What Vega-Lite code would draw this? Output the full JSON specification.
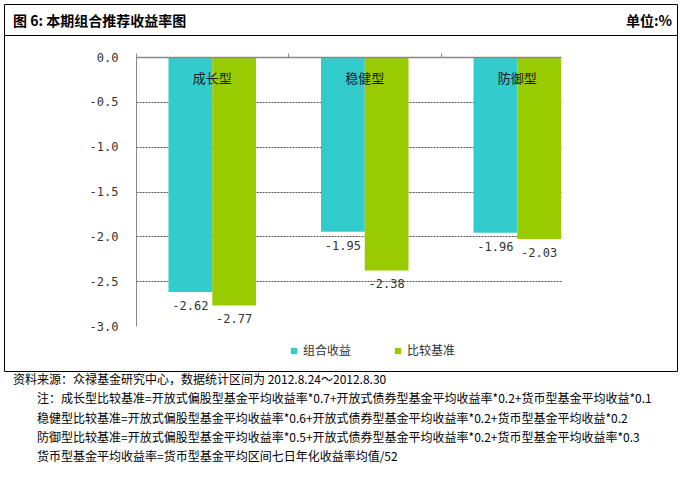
{
  "$schema": "https://vega.github.io/schema/vega-lite/v6.json",
  "background": "white",
  "padding": {"left": 3, "top": 3, "right": 0, "bottom": 0},
  "spacing": 0,
  "bounds": "flush",
  "config": {
    "font": "Noto Sans CJK SC",
    "view": {"stroke": "#000000", "strokeWidth": 1},
    "locale": {"number": {"decimal": ".", "thousands": ",", "grouping": [3], "currency": ["", ""], "minus": "-"}}
  },
  "vconcat": [
    {
      "width": 673,
      "height": 31,
      "data": {"values": [
        {"文字": "图 6: 本期组合推荐收益率图", "位置": "左"},
        {"文字": "单位:%", "位置": "右"}
      ]},
      "encoding": {
        "x": {"field": "位置", "type": "nominal", "scale": {"type": "point", "domain": ["左", "右"], "padding": 0}, "axis": null},
        "text": {"field": "文字", "type": "nominal"}
      },
      "layer": [
        {
          "transform": [{"filter": "datum['位置'] == '左'"}],
          "mark": {"type": "text", "align": "left", "dx": 9, "dy": 2, "fontSize": 14, "fontWeight": "bold", "color": "#000000"}
        },
        {
          "transform": [{"filter": "datum['位置'] == '右'"}],
          "mark": {"type": "text", "align": "right", "dx": -5, "dy": 2, "fontSize": 14, "fontWeight": "bold", "color": "#000000"}
        }
      ]
    },
    {
      "width": 673,
      "height": 336,
      "data": {"values": [
        {"类型": "成长型", "系列": "组合收益", "收益率": -2.62},
        {"类型": "成长型", "系列": "比较基准", "收益率": -2.77},
        {"类型": "稳健型", "系列": "组合收益", "收益率": -1.95},
        {"类型": "稳健型", "系列": "比较基准", "收益率": -2.38},
        {"类型": "防御型", "系列": "组合收益", "收益率": -1.96},
        {"类型": "防御型", "系列": "比较基准", "收益率": -2.03}
      ]},
      "encoding": {
        "x": {
          "field": "类型", "type": "nominal", "sort": ["成长型", "稳健型", "防御型"],
          "scale": {"range": [132, 557], "paddingInner": 0.4262, "paddingOuter": 0.1066, "align": 1},
          "axis": {
            "orient": "top", "offset": -22, "labels": false, "title": null,
            "ticks": true, "tickSize": 4, "tickColor": "#888888", "bandPosition": -0.3714,
            "domainColor": "#888888", "domainWidth": 1.5, "grid": false, "zindex": 1
          }
        }
      },
      "layer": [
        {
          "mark": {"type": "bar"},
          "encoding": {
            "xOffset": {"field": "系列", "type": "nominal", "sort": ["组合收益", "比较基准"], "scale": {"paddingInner": 0, "paddingOuter": 0}},
            "y": {
              "field": "收益率", "type": "quantitative",
              "scale": {"domain": [-3, 0], "range": [291, 22], "nice": false, "zero": false},
              "axis": {
                "orient": "left", "offset": -132, "title": null,
                "values": [0, -0.5, -1, -1.5, -2, -2.5, -3], "format": ".1f",
                "ticks": false, "labelPadding": 18,
                "labelFont": "DejaVu Sans Mono", "labelFontSize": 12, "labelColor": "#333333",
                "domainColor": "#888888", "domainWidth": 1,
                "grid": true, "gridColor": "#555555", "gridDash": [2, 1], "gridWidth": 1,
                "gridOpacity": {"condition": {"test": "datum.value == 0 || datum.value == -3", "value": 0}, "value": 1}
              }
            },
            "color": {
              "field": "系列", "type": "nominal",
              "scale": {"domain": ["组合收益", "比较基准"], "range": ["#33CCCC", "#99CC00"]},
              "legend": {
                "orient": "none", "legendX": 284, "legendY": 341, "direction": "horizontal",
                "title": null, "symbolType": "square", "symbolSize": 40, "symbolStrokeWidth": 0,
                "labelFont": "Noto Sans CJK SC", "labelFontSize": 12, "labelColor": "#333333",
                "columnPadding": 40, "labelOffset": 3
              }
            }
          }
        },
        {
          "mark": {"type": "text", "baseline": "middle", "dy": 14, "font": "DejaVu Sans Mono", "fontSize": 12, "color": "#333333"},
          "encoding": {
            "xOffset": {"field": "系列", "type": "nominal", "sort": ["组合收益", "比较基准"]},
            "y": {"field": "收益率", "type": "quantitative"},
            "text": {"field": "收益率", "type": "quantitative", "format": ".2f"}
          }
        },
        {
          "transform": [{"filter": "datum['系列'] == '组合收益'"}],
          "mark": {"type": "text", "baseline": "middle", "dy": 22, "fontSize": 13, "color": "#1a1a1a"},
          "encoding": {
            "y": {"datum": 0},
            "text": {"field": "类型", "type": "nominal"}
          }
        }
      ]
    },
    {
      "width": 673,
      "height": 103,
      "title": {
        "text": [
          "资料来源：众禄基金研究中心，数据统计区间为 2012.8.24～2012.8.30",
          "\u200b\u3000\u3000注：成长型比较基准=开放式偏股型基金平均收益率*0.7+开放式债券型基金平均收益率*0.2+货币型基金平均收益*0.1",
          "\u200b\u3000\u3000稳健型比较基准=开放式偏股型基金平均收益率*0.6+开放式债券型基金平均收益率*0.2+货币型基金平均收益*0.2",
          "\u200b\u3000\u3000防御型比较基准=开放式偏股型基金平均收益率*0.5+开放式债券型基金平均收益率*0.2+货币型基金平均收益率*0.3",
          "\u200b\u3000\u3000货币型基金平均收益率=货币型基金平均区间七日年化收益率均值/52"
        ],
        "anchor": "start", "orient": "top", "offset": -93.5, "dx": 9,
        "baseline": "top", "fontSize": 12, "fontWeight": "normal", "lineHeight": 19.4,
        "color": "#000000", "font": "Noto Sans CJK SC"
      },
      "data": {"values": []},
      "mark": {"type": "text"},
      "encoding": {}
    }
  ]
}
